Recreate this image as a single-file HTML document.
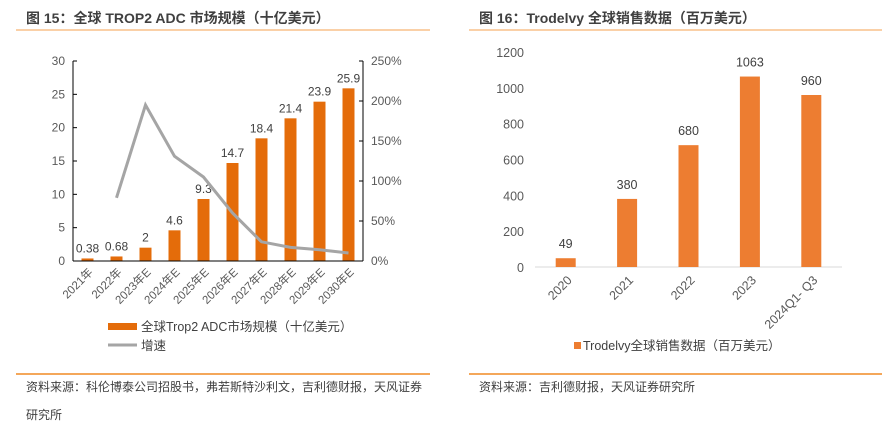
<!DOCTYPE html>
<html><head><meta charset="utf-8"><style>
body{margin:0;background:#fff;}
svg text{font-family:"Liberation Sans","Noto Sans CJK SC",sans-serif;}
</style></head><body>
<svg width="894" height="427" viewBox="0 0 894 427" xmlns="http://www.w3.org/2000/svg">
<text x="26" y="23" font-size="14" font-weight="bold" fill="#404040">图 15：全球 TROP2 ADC 市场规模（十亿美元）</text>
<line x1="16" y1="30" x2="430" y2="30" stroke="#F8C08A" stroke-width="1.5"/>
<text x="479" y="23" font-size="14" font-weight="bold" fill="#404040">图 16：Trodelvy 全球销售数据（百万美元）</text>
<line x1="469" y1="30" x2="882" y2="30" stroke="#F8C08A" stroke-width="1.5"/>
<g id="left"></g>
<g id="right"></g>
<line x1="16" y1="374" x2="430" y2="374" stroke="#F08A24" stroke-width="1.5"/>
<line x1="469" y1="374" x2="882" y2="374" stroke="#F08A24" stroke-width="1.5"/>
<text x="26" y="391" font-size="12" fill="#404040">资料来源：科伦博泰公司招股书，弗若斯特沙利文，吉利德财报，天风证券</text>
<text x="26" y="419" font-size="12" fill="#404040">研究所</text>
<text x="479" y="391" font-size="12" fill="#404040">资料来源：吉利德财报，天风证券研究所</text>
</svg>
<script>
const leftCats=['2021年','2022年','2023年E','2024年E','2025年E','2026年E','2027年E','2028年E','2029年E','2030年E'];
const leftSize=[0.38,0.68,2,4.6,9.3,14.7,18.4,21.4,23.9,25.9];
const leftSizeLabels=['0.38','0.68','2','4.6','9.3','14.7','18.4','21.4','23.9','25.9'];
const leftGrowth=[null,79,195,131,105,60,24,17,14,10];
const leftTicks=[0,5,10,15,20,25,30];
const rightTicks=[0,50,100,150,200,250];
const rCats=['2020','2021','2022','2023','2024Q1- Q3'];
const rVals=[49,380,680,1063,960];
const rTicks=[0,200,400,600,800,1000,1200];
const NS='http://www.w3.org/2000/svg';
function mk(p,t,a,txt){const e=document.createElementNS(NS,t);for(const k in a)e.setAttribute(k,a[k]);if(txt!==undefined)e.textContent=txt;p.appendChild(e);return e;}
// left chart
const L=document.getElementById('left');
const lx0=73,lx1=363,ly0=261,ly1=61;
const yL=v=>ly0-(v/30)*(ly0-ly1);
const yR=v=>ly0-(v/250)*(ly0-ly1);
const bw=(lx1-lx0)/leftCats.length;
const xc=i=>lx0+bw*(i+0.5);
leftTicks.forEach(t=>{const tx=mk(L,'text',{x:lx0-8,y:yL(t)+4,'font-size':12,fill:'#595959','text-anchor':'end'},String(t));

mk(L,'line',{x1:lx0,x2:lx0+4,y1:yL(t),y2:yL(t),stroke:'#000'});});
rightTicks.forEach(t=>{const tx=mk(L,'text',{x:lx1+8,y:yR(t)+4,'font-size':12,fill:'#595959'},t+'%');

mk(L,'line',{x1:lx1-4,x2:lx1,y1:yR(t),y2:yR(t),stroke:'#000'});});
leftSize.forEach((v,i)=>{const r=mk(L,'rect',{x:xc(i)-6,y:yL(v),width:12,height:ly0-yL(v),fill:'#E46C0A'});

const t=mk(L,'text',{x:xc(i),y:yL(v)-6,'font-size':12,fill:'#404040','text-anchor':'middle'},leftSizeLabels[i]);

const c=mk(L,'text',{x:xc(i)+6,y:ly0+12,'font-size':11.5,fill:'#595959','text-anchor':'end',transform:`rotate(-45 ${xc(i)+6} ${ly0+12})`},leftCats[i]);
});
let pts=[];leftGrowth.forEach((v,i)=>{if(v!==null)pts.push(xc(i)+','+yR(v));});
const pl=mk(L,'polyline',{points:pts.join(' '),fill:'none',stroke:'#A5A5A5','stroke-width':3});

mk(L,'line',{x1:lx0,x2:lx0,y1:ly1,y2:ly0,stroke:'#000'});
mk(L,'line',{x1:lx1,x2:lx1,y1:ly1,y2:ly0,stroke:'#000'});
mk(L,'line',{x1:lx0,x2:lx1,y1:ly0,y2:ly0,stroke:'#000'});
const lg1=mk(L,'rect',{x:108,y:323,width:29,height:7,fill:'#E46C0A'});

const lt1=mk(L,'text',{x:141,y:331,'font-size':12.5,fill:'#404040'},'全球Trop2 ADC市场规模（十亿美元）');

const lg2=mk(L,'line',{x1:108,x2:137,y1:345,y2:345,stroke:'#A5A5A5','stroke-width':3});

const lt2=mk(L,'text',{x:141,y:350,'font-size':12.5,fill:'#404040'},'增速');

// right chart
const R=document.getElementById('right');
const rx0=535,rx1=842,ry0=267,ry1=52;
const yr=v=>ry0-(v/1200)*(ry0-ry1);
const rbw=(rx1-rx0)/rCats.length;
const rxc=i=>rx0+rbw*(i+0.5);
rTicks.forEach(t=>{const tx=mk(R,'text',{x:524,y:yr(t)+5,'font-size':12.5,fill:'#595959','text-anchor':'end'},String(t));
});
mk(R,'line',{x1:rx0,x2:rx1,y1:ry0,y2:ry0,stroke:'#D9D9D9'});
rVals.forEach((v,i)=>{const r=mk(R,'rect',{x:rxc(i)-10,y:yr(v),width:20,height:ry0-yr(v),fill:'#ED7D31'});

const t=mk(R,'text',{x:rxc(i),y:yr(v)-10,'font-size':12.5,fill:'#404040','text-anchor':'middle'},String(v));

const c=mk(R,'text',{x:rxc(i)+7,y:ry0+14,'font-size':12.5,fill:'#595959','text-anchor':'end',transform:`rotate(-45 ${rxc(i)+7} ${ry0+14})`},rCats[i]);
});
const rg=mk(R,'rect',{x:574,y:342,width:7,height:7,fill:'#ED7D31'});

const rt=mk(R,'text',{x:583,y:350,'font-size':12.5,fill:'#404040'},'Trodelvy全球销售数据（百万美元）');

</script>
</body></html>
